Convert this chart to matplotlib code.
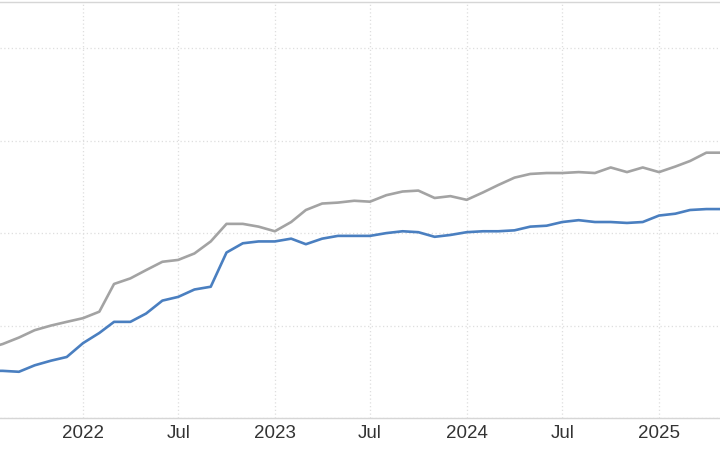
#!/usr/bin/python3

"""
Two index series, monthly, mid 2021 to spring 2025.
"""

import datetime

import matplotlib
matplotlib.use("Agg")
import matplotlib.dates as mdates
import matplotlib.pyplot as plt

# Monthly values, Jul 2021 .. May 2025
start_year, start_month = 2021, 7

gray_values = [
    107.5, 108.0, 108.7, 109.5, 110.0, 110.4,
    110.8, 111.5, 114.5, 115.1, 116.0, 116.9,
    117.1, 117.8, 119.1, 121.0, 121.0, 120.7,
    120.2, 121.2, 122.5, 123.2, 123.3, 123.5,
    123.4, 124.1, 124.5, 124.6, 123.8, 124.0,
    123.6, 124.4, 125.2, 126.0, 126.4, 126.5,
    126.5, 126.6, 126.5, 127.1, 126.6, 127.1,
    126.6, 127.2, 127.8, 128.7, 128.7,
]

blue_values = [
    105.1, 105.1, 105.0, 105.7, 106.2, 106.6,
    108.1, 109.2, 110.4, 110.4, 111.3, 112.7,
    113.1, 113.9, 114.2, 117.9, 118.9, 119.1,
    119.1, 119.4, 118.8, 119.4, 119.7, 119.7,
    119.7, 120.0, 120.2, 120.1, 119.6, 119.8,
    120.1, 120.2, 120.2, 120.3, 120.7, 120.8,
    121.2, 121.4, 121.2, 121.2, 121.1, 121.2,
    121.9, 122.1, 122.5, 122.6, 122.6,
]

tick_dates = ["2022-01", "2022-07", "2023-01", "2023-07",
              "2024-01", "2024-07", "2025-01"]
tick_labels = ["2022", "Jul", "2023", "Jul", "2024", "Jul", "2025"]


def month_dates(n):
    dates = []
    y, m = start_year, start_month
    for _ in range(n):
        dates.append(datetime.date(y, m, 1))
        m += 1
        if m > 12:
            y, m = y + 1, 1
    return dates


def main():
    plt.rcParams["font.family"] = ["Liberation Sans", "DejaVu Sans"]
    fig = plt.figure(figsize=(7.2, 4.72), dpi=100)
    ax = fig.add_axes([0.0, 54 / 472, 1.0, 416 / 472])

    dates = month_dates(len(gray_values))
    ax.plot(dates, gray_values, color="#a3a3a3", lw=1.9, solid_capstyle="round")
    ax.plot(dates, blue_values, color="#4a7fc0", lw=1.9, solid_capstyle="round")

    ax.set_ylim(100, 145)
    ax.set_yticks([100, 110, 120, 130, 140])
    ax.tick_params(axis="y", left=False, labelleft=False)

    ax.set_xlim(datetime.date(2021, 7, 27), datetime.date(2025, 4, 27))
    ticks = [datetime.date(int(t[:4]), int(t[5:]), 1) for t in tick_dates]
    ax.set_xticks(mdates.date2num(ticks))
    ax.set_xticklabels(tick_labels)
    ax.tick_params(axis="x", length=0, pad=5, labelsize=13.5, colors="#333333")

    ax.grid(True, color="#dedede", lw=0.9, linestyle=(0, (1, 2)))
    ax.set_axisbelow(True)
    for side in ("left", "right"):
        ax.spines[side].set_visible(False)
    for side in ("top", "bottom"):
        ax.spines[side].set_color("#d6d6d6")
        ax.spines[side].set_linewidth(1.0)

    fig.savefig("out.png", dpi=100)


if __name__ == "__main__":
    main()
